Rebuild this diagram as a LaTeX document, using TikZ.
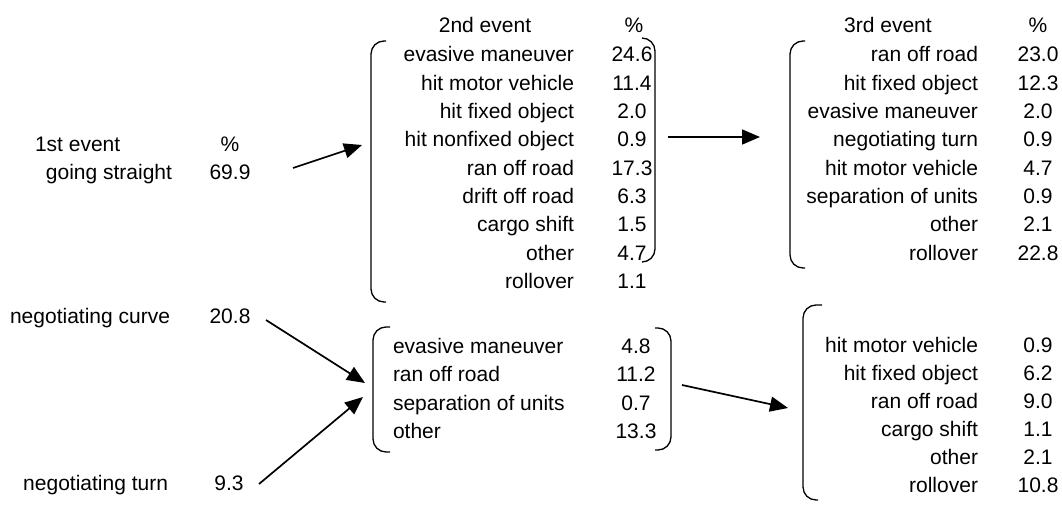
\documentclass[tikz,border=0pt]{standalone}
\usepackage{fontspec}
\setmainfont{Liberation Sans}
\usetikzlibrary{arrows.meta}
\begin{document}
\begin{tikzpicture}[x=1pt,y=-1pt,
  every node/.style={inner sep=0pt, outer sep=0pt, font=\fontsize{21}{25}\selectfont},
  lab/.style={anchor=base east},
  labw/.style={anchor=base west},
  num/.style={anchor=base},
  brk/.style={draw, line width=1.3pt, rounded corners=13pt},
  arr/.style={line width=1.7pt, -{Triangle[length=18pt,width=15pt]}}]
\useasboundingbox (0,0) rectangle (1062,505);
% column 1
\node[labw] (h1) at (35,152) {1st event};
\node[num] (p1) at (230,152) {\%};
\node[lab] (gs) at (172,179) {going straight};
\node[num] (gsn) at (230,179) {69.9};
\node[lab] (nc) at (170,323) {negotiating curve};
\node[num] (ncn) at (230,323) {20.8};
\node[lab] (nt) at (168,490) {negotiating turn};
\node[num] (ntn) at (229,490) {9.3};
% column 2 top
\node[num] (h2) at (485,33) {2nd event};
\node[num] (p2) at (634,33) {\%};
\foreach [count=\i from 0] \t/\n in {evasive maneuver/24.6, hit motor vehicle/11.4, hit fixed object/2.0, hit nonfixed object/0.9, ran off road/17.3, drift off road/6.3, cargo shift/1.5, other/4.7, rollover/1.1}{
  \node[lab] (a\i) at (574,{62+28.3*\i}) {\t};
  \node[num] (an\i) at (632,{62+28.3*\i}) {\n};
}
% column 3 top
\node[num] (h3) at (888,33) {3rd event};
\node[num] (p3) at (1038,33) {\%};
\foreach [count=\i from 0] \t/\n in {ran off road/23.0, hit fixed object/12.3, evasive maneuver/2.0, negotiating turn/0.9, hit motor vehicle/4.7, separation of units/0.9, other/2.1, rollover/22.8}{
  \node[lab] (b\i) at (978,{62+28.3*\i}) {\t};
  \node[num] (bn\i) at (1038,{62+28.3*\i}) {\n};
}
% column 2 bottom
\foreach [count=\i from 0] \t/\n in {evasive maneuver/4.8, ran off road/11.2, separation of units/0.7, other/13.3}{
  \node[labw] (c\i) at (393,{353+28.5*\i}) {\t};
  \node[num] (cn\i) at (636,{353+28.5*\i}) {\n};
}
% column 3 bottom
\foreach [count=\i from 0] \t/\n in {hit motor vehicle/0.9, hit fixed object/6.2, ran off road/9.0, cargo shift/1.1, other/2.1, rollover/10.8}{
  \node[lab] (d\i) at (978,{352+28*\i}) {\t};
  \node[num] (dn\i) at (1038,{352+28*\i}) {\n};
}
% brackets
\draw[brk] (386,41) -- (371,41) -- (371,302) -- (386,302);
\draw[brk] (642,38) -- (655,38) -- (655,262) -- (642,262);
\draw[brk] (805,41) -- (790,41) -- (790,268) -- (805,268);
\draw[brk] (390,327) -- (373,327) -- (373,452) -- (390,452);
\draw[brk] (655,328) -- (671,328) -- (671,450) -- (655,450);
\draw[brk] (822,305) -- (803,305) -- (803,500) -- (818,500);
% arrow ends
\coordinate (s1) at (293,168); \coordinate (e1) at (362,145);
\coordinate (s2) at (266,320); \coordinate (e2) at (365,383);
\coordinate (s3) at (259,484); \coordinate (e3) at (363,397);
\coordinate (s4) at (668,137); \coordinate (e4) at (760,137);
\coordinate (s5) at (682,385); \coordinate (e5) at (788,408);
\draw[arr] (s1) -- (e1);
\draw[arr] (s2) -- (e2);
\draw[arr] (s3) -- (e3);
\draw[arr] (s4) -- (e4);
\draw[arr] (s5) -- (e5);
\end{tikzpicture}
\end{document}
